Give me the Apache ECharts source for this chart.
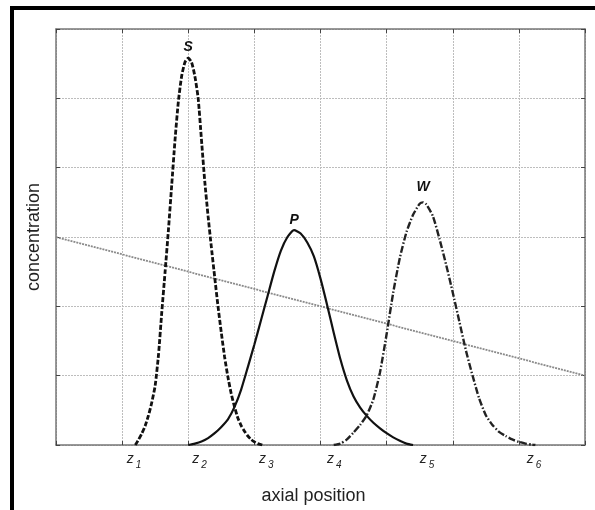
<!DOCTYPE html>
<html>
<head>
<meta charset="utf-8">
<script src="https://cdn.jsdelivr.net/npm/echarts@6/dist/echarts.min.js"></script>
<style>
  html, body { margin: 0; padding: 0; background: #fff; }
  #chart { width: 595px; height: 510px; }
</style>
</head>
<body>
<div id="chart"></div>
<script>
// peak S (dashed)
const sX = [1.20, 1.25, 1.30, 1.35, 1.40, 1.45, 1.50, 1.55, 1.60, 1.65, 1.70, 1.75, 1.80, 1.85, 1.90, 1.95, 2.00,
            2.05, 2.10, 2.15, 2.20, 2.25, 2.30, 2.35, 2.40, 2.45, 2.50, 2.55, 2.60, 2.65, 2.70, 2.75, 2.80, 2.85, 2.90, 2.95, 3.00, 3.05, 3.12];
const sY = [0, 0.08, 0.17, 0.28, 0.43, 0.62, 0.86, 1.3, 1.92, 2.5, 3.1, 3.75, 4.4, 4.95, 5.32, 5.52, 5.58,
            5.52, 5.32, 5.0, 4.4, 3.8, 3.3, 2.85, 2.42, 2.0, 1.62, 1.27, 0.98, 0.74, 0.55, 0.39, 0.28, 0.2, 0.13, 0.08, 0.045, 0.02, 0];
// peak P (solid)
const pX = [2.0, 2.1, 2.2, 2.3, 2.4, 2.5, 2.6, 2.7, 2.8, 2.9, 3.0, 3.1, 3.2, 3.3, 3.4, 3.5, 3.6,
            3.7, 3.8, 3.9, 4.0, 4.1, 4.2, 4.3, 4.4, 4.5, 4.6, 4.7, 4.8, 4.9, 5.0, 5.1, 5.2, 5.3, 5.4];
const pY = [0, 0.02, 0.05, 0.1, 0.17, 0.26, 0.37, 0.55, 0.8, 1.12, 1.45, 1.8, 2.15, 2.5, 2.8, 3.0, 3.1,
            3.05, 2.92, 2.72, 2.4, 2.02, 1.62, 1.24, 0.93, 0.7, 0.54, 0.42, 0.32, 0.24, 0.17, 0.11, 0.06, 0.02, 0];
// peak W (dash-dot)
const wX = [4.2, 4.3, 4.4, 4.5, 4.6, 4.7, 4.8, 4.9, 5.0, 5.1, 5.2, 5.3, 5.4, 5.5, 5.55, 5.6,
            5.7, 5.8, 5.9, 6.0, 6.1, 6.2, 6.3, 6.4, 6.5, 6.6, 6.7, 6.8, 6.9, 7.0, 7.1, 7.2, 7.25];
const wY = [0, 0.02, 0.08, 0.18, 0.29, 0.43, 0.66, 1.05, 1.6, 2.2, 2.7, 3.07, 3.32, 3.48, 3.5, 3.47,
            3.3, 2.97, 2.6, 2.2, 1.78, 1.36, 1.0, 0.67, 0.43, 0.29, 0.19, 0.13, 0.08, 0.045, 0.02, 0.005, 0];
// straight dotted line
const gX = [0, 8];
const gY = [3, 1];
// z labels on the x axis
const zPos = [1.18, 2.17, 3.18, 4.21, 5.61, 7.23];
const zNames = ['1', '2', '3', '4', '5', '6'];

const pairs = (xs, ys) => xs.map((x, i) => [x, ys[i]]);

const chart = echarts.init(document.getElementById('chart'));

const axisCol = '#777';
const gridCol = '#bdbdbd';
const font = 'Liberation Sans, Arial, sans-serif';

function peakLabel(txt, dist) {
  return {
    symbol: 'circle',
    symbolSize: 0,
    data: [{ type: 'max' }],
    label: {
      show: true,
      position: 'top',
      distance: dist,
      formatter: txt,
      color: '#111',
      fontSize: 14,
      fontStyle: 'italic',
      fontWeight: 'bold',
      fontFamily: font
    }
  };
}

const option = {
  animation: false,
  backgroundColor: '#fff',
  grid: { left: 56, right: 10, top: 29, bottom: 65 },
  xAxis: [
    {
      type: 'value', min: 0, max: 8, interval: 1, position: 'bottom',
      axisLine: { show: true, lineStyle: { color: axisCol, width: 1.5 } },
      axisTick: { show: true, inside: true, length: 4, lineStyle: { color: '#444' } },
      axisLabel: { show: false },
      splitLine: { show: true, lineStyle: { color: gridCol, type: [2, 1], width: 1 } },
      name: 'axial position',
      nameLocation: 'middle',
      nameGap: 42,
      nameTextStyle: { fontSize: 18, color: '#222', fontFamily: font, padding: [0, 14, 0, 0] }
    },
    {
      type: 'value', min: 0, max: 8, interval: 1, position: 'top',
      axisLine: { show: true, onZero: false, lineStyle: { color: axisCol, width: 1.5 } },
      axisTick: { show: true, inside: true, length: 4, lineStyle: { color: '#444' } },
      axisLabel: { show: false },
      splitLine: { show: false }
    },
    {
      type: 'value', min: 0, max: 8, position: 'bottom',
      axisLine: { show: false },
      axisTick: { show: false },
      splitLine: { show: false },
      axisLabel: {
        show: true,
        margin: 7,
        customValues: zPos,
        formatter: v => {
          const i = zPos.indexOf(v);
          return '{z|z}{s|' + zNames[i] + '}';
        },
        rich: {
          z: { fontSize: 14, fontStyle: 'italic', color: '#222', fontFamily: font, verticalAlign: 'top' },
          s: { fontSize: 10, fontStyle: 'italic', color: '#222', fontFamily: font, padding: [8, 0, 0, 2], verticalAlign: 'top' }
        }
      }
    }
  ],
  yAxis: [
    {
      type: 'value', min: 0, max: 6, interval: 1, position: 'left',
      axisLine: { show: true, lineStyle: { color: axisCol, width: 1.5 } },
      axisTick: { show: true, inside: true, length: 4, lineStyle: { color: '#444' } },
      axisLabel: { show: false },
      splitLine: { show: true, lineStyle: { color: gridCol, type: [2, 1], width: 1 } },
      name: 'concentration',
      nameLocation: 'middle',
      nameGap: 13,
      nameTextStyle: { fontSize: 18, color: '#222', fontFamily: font, padding: [0, 0, 0, 0] }
    },
    {
      type: 'value', min: 0, max: 6, interval: 1, position: 'right',
      axisLine: { show: true, onZero: false, lineStyle: { color: axisCol, width: 1.5 } },
      axisTick: { show: true, inside: true, length: 4, lineStyle: { color: '#444' } },
      axisLabel: { show: false },
      splitLine: { show: false }
    }
  ],
  series: [
    {
      name: 'gradient',
      type: 'line',
      data: pairs(gX, gY),
      showSymbol: false,
      lineStyle: { color: '#8a8a8a', width: 1.8, type: [2, 1] },
      z: 1
    },
    {
      name: 'S',
      type: 'line',
      smooth: 0.2,
      data: pairs(sX, sY),
      showSymbol: false,
      lineStyle: { color: '#111', width: 2.8, type: [5, 2] },
      markPoint: peakLabel('S', 4)
    },
    {
      name: 'P',
      type: 'line',
      smooth: 0.2,
      data: pairs(pX, pY),
      showSymbol: false,
      lineStyle: { color: '#111', width: 2.2 },
      markPoint: peakLabel('P', 3)
    },
    {
      name: 'W',
      type: 'line',
      smooth: 0.2,
      data: pairs(wX, wY),
      showSymbol: false,
      lineStyle: { color: '#222', width: 2.4, type: [7, 2, 1.5, 2] },
      markPoint: peakLabel('W', 8)
    }
  ],
  graphic: [
    // the black frame round the figure (top and left only)
    { type: 'rect', shape: { x: 10, y: 6, width: 585, height: 4 }, style: { fill: '#000' } },
    { type: 'rect', shape: { x: 10, y: 6, width: 4, height: 504 }, style: { fill: '#000' } }
  ]
};

chart.setOption(option);
</script>
</body>
</html>
